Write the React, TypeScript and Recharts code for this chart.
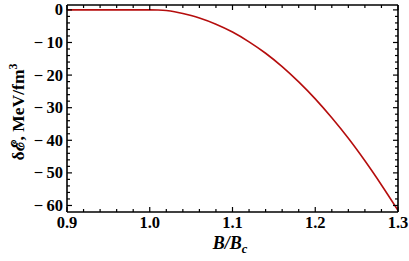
import React from 'react';
import { LineChart, Line, XAxis, YAxis, Label } from 'recharts';

// B/Bc values and energy shift (MeV/fm^3)
const bRatio = [0.9, 0.95, 1.0, 1.01, 1.02, 1.03, 1.04, 1.05, 1.06, 1.08, 1.1, 1.12, 1.14, 1.16, 1.18, 1.2, 1.22, 1.24, 1.26, 1.28, 1.3];
const deltaE = [0, 0, 0, -0.05, -0.2, -0.55, -1.1, -1.75, -2.5, -4.4, -6.8, -9.8, -13.3, -17.4, -22.1, -27.3, -33.1, -39.4, -46.3, -53.7, -61.5];

const xTicks = Array.from({ length: 21 }, (_, i) => Number((0.9 + i * 0.02).toFixed(2)));
const yTicks = Array.from({ length: 31 }, (_, i) => -60 + i * 2);
const xMajor = [0.9, 1.0, 1.1, 1.2, 1.3];
const yMajor = [0, -10, -20, -30, -40, -50, -60];

const data = bRatio.map((b, i) => ({ b, e: deltaE[i] }));

const FONT = 'Liberation Serif, Times New Roman, serif';
const isMajor = (v: number, list: number[]) => list.some((m) => Math.abs(m - v) < 1e-6);

const BottomTick = (props: any) => {
  const { x, y, payload } = props;
  const major = isMajor(payload.value, xMajor);
  return (
    <g>
      <line x1={x} x2={x} y1={y} y2={y - (major ? 5 : 3)} stroke="#000" strokeWidth={1.2} />
      {major && (
        <text x={x} y={y + 16} textAnchor="middle" fontFamily={FONT} fontWeight="bold" fontSize={16.5} fill="#000">
          {payload.value.toFixed(1)}
        </text>
      )}
    </g>
  );
};

const TopTick = (props: any) => {
  const { x, y, payload } = props;
  const major = isMajor(payload.value, xMajor);
  return <line x1={x} x2={x} y1={y} y2={y + (major ? 5 : 3)} stroke="#000" strokeWidth={1.2} />;
};

const LeftTick = (props: any) => {
  const { x, y, payload } = props;
  const major = isMajor(payload.value, yMajor);
  return (
    <g>
      <line x1={x} x2={x + (major ? 5 : 3)} y1={y} y2={y} stroke="#000" strokeWidth={1.2} />
      {major && (
        <text x={x - 4} y={y + 5.5} textAnchor="end" fontFamily={FONT} fontWeight="bold" fontSize={16.5} fill="#000">
          {payload.value === 0 ? '0' : '\u2212\u2009' + Math.abs(payload.value)}
        </text>
      )}
    </g>
  );
};

const RightTick = (props: any) => {
  const { x, y, payload } = props;
  const major = isMajor(payload.value, yMajor);
  return <line x1={x} x2={x - (major ? 5 : 3)} y1={y} y2={y} stroke="#000" strokeWidth={1.2} />;
};

export default function App() {
  return (
    <div style={{ position: 'absolute', left: 0, top: 0, width: 409, height: 261, background: '#fff' }}>
      <LineChart width={409} height={261} data={data} margin={{ top: 4, right: 10, bottom: 0, left: 0 }}>
        <XAxis
          dataKey="b"
          type="number"
          domain={[0.9, 1.3]}
          ticks={xTicks}
          interval={0}
          height={49}
          tickSize={0}
          tickMargin={0}
          tick={<BottomTick />}
          axisLine={{ stroke: '#000', strokeWidth: 1.6 }}
          allowDataOverflow
        >
          <Label
            content={() => (
              <text x={230} y={249} textAnchor="middle" fontFamily={FONT} fontWeight="bold" fontStyle="italic" fontSize={18} fill="#000">
                B/B<tspan fontSize={12.5} dy={4}>c</tspan>
              </text>
            )}
          />
        </XAxis>
        <XAxis
          xAxisId="top"
          dataKey="b"
          orientation="top"
          type="number"
          domain={[0.9, 1.3]}
          ticks={xTicks}
          interval={0}
          height={1}
          tickSize={0}
          tickMargin={0}
          tick={<TopTick />}
          axisLine={{ stroke: '#000', strokeWidth: 1.6 }}
          allowDataOverflow
        />
        <YAxis
          dataKey="e"
          type="number"
          domain={[-62, 1.5]}
          ticks={yTicks}
          interval={0}
          width={67}
          tickSize={0}
          tickMargin={0}
          tick={<LeftTick />}
          axisLine={{ stroke: '#000', strokeWidth: 1.6 }}
          allowDataOverflow
        >
          <Label
            content={() => (
              <text
                x={0}
                y={0}
                transform="translate(24,112) rotate(-90)"
                textAnchor="middle"
                fontFamily={FONT}
                fontWeight="bold"
                fontSize={17.5}
                fill="#000"
              >
                δℰ, MeV/fm<tspan fontSize={12} dy={-7}>3</tspan>
              </text>
            )}
          />
        </YAxis>
        <YAxis
          yAxisId="right"
          dataKey="e"
          orientation="right"
          type="number"
          domain={[-62, 1.5]}
          ticks={yTicks}
          interval={0}
          width={1}
          tickSize={0}
          tickMargin={0}
          tick={<RightTick />}
          axisLine={{ stroke: '#000', strokeWidth: 1.6 }}
          allowDataOverflow
        />
        <Line
          dataKey="e"
          type="monotone"
          stroke="#b50d0d"
          strokeWidth={1.6}
          dot={false}
          isAnimationActive={false}
        />
      </LineChart>
    </div>
  );
}
